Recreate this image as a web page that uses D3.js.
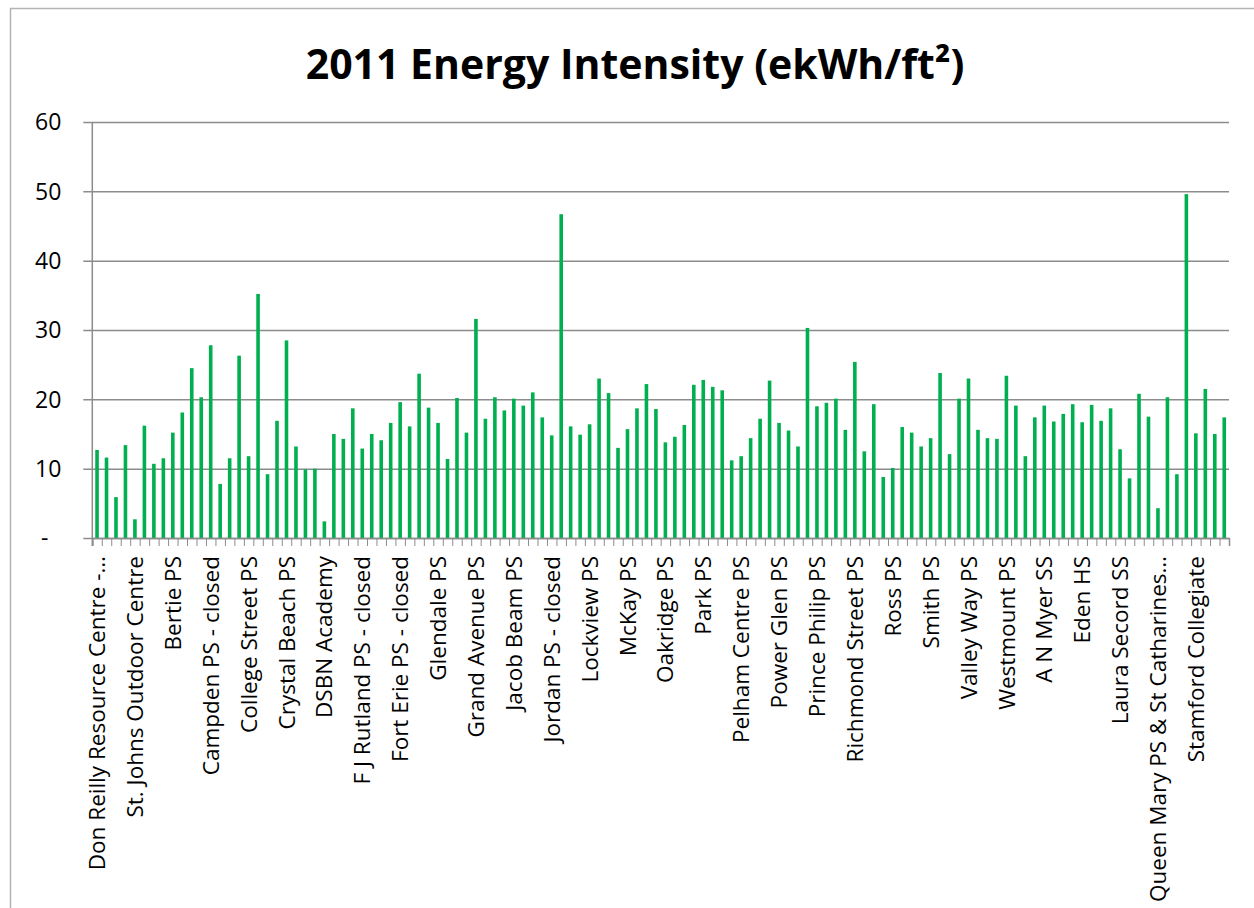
<!DOCTYPE html>
<html>
<head>
<meta charset="utf-8">
<script src="https://cdn.jsdelivr.net/npm/d3@7"></script>
<style>
    body { margin: 0; background: #fff; }
    text { font-family: "Open Sans", sans-serif; fill: #000; }
</style>
</head>
<body>
<div id="chart-container"></div>
<script>
// Energy intensity per building, 120 buildings (ekWh/ft2)
const intensityValues = [
    12.7, 11.6, 5.9, 13.4, 2.7, 16.2, 10.7, 11.5, 15.2, 18.1,
    24.5, 20.3, 27.8, 7.8, 11.5, 26.3, 11.8, 35.2, 9.2, 16.9,
    28.5, 13.2, 9.9, 10.0, 2.4, 15.0, 14.3, 18.7, 12.9, 15.0,
    14.1, 16.6, 19.6, 16.1, 23.7, 18.8, 16.6, 11.4, 20.2, 15.2,
    31.6, 17.2, 20.3, 18.4, 20.1, 19.1, 21.0, 17.4, 14.8, 46.7,
    16.1, 14.9, 16.4, 23.0, 20.9, 13.0, 15.7, 18.7, 22.2, 18.6,
    13.8, 14.6, 16.3, 22.1, 22.8, 21.8, 21.3, 11.2, 11.8, 14.4,
    17.2, 22.7, 16.6, 15.5, 13.2, 30.3, 19.0, 19.5, 20.1, 15.6,
    25.4, 12.5, 19.3, 8.8, 10.1, 16.0, 15.2, 13.2, 14.4, 23.8,
    12.1, 20.1, 23.0, 15.6, 14.4, 14.3, 23.4, 19.1, 11.8, 17.4,
    19.1, 16.8, 17.9, 19.3, 16.7, 19.2, 16.9, 18.7, 12.8, 8.6,
    20.8, 17.5, 4.3, 20.3, 9.2, 49.6, 15.1, 21.5, 15.0, 17.4
];

// Only every 4th building name is printed under the axis
const shownLabels = [
    "Don Reilly Resource Centre -…", "St. Johns Outdoor Centre", "Bertie PS",
    "Campden PS - closed", "College Street PS", "Crystal Beach PS", "DSBN Academy",
    "F J Rutland PS - closed", "Fort Erie PS - closed", "Glendale PS", "Grand Avenue PS",
    "Jacob Beam PS", "Jordan PS - closed", "Lockview PS", "McKay PS", "Oakridge PS",
    "Park PS", "Pelham Centre PS", "Power Glen PS", "Prince Philip PS",
    "Richmond Street PS", "Ross PS", "Smith PS", "Valley Way PS", "Westmount PS",
    "A N Myer SS", "Eden HS", "Laura Secord SS", "Queen Mary PS & St Catharines…",
    "Stamford Collegiate"
];
const labelEvery = 4;

const yTicks = [0, 10, 20, 30, 40, 50, 60];

const chartWidth = 1254;
const chartHeight = 908;
const plot = {left: 92.3, right: 1229, top: 122, bottom: 538};
const barColor = "#00b050";
const gridColor = "#8c8c8c";

const svg = d3.select("#chart-container").append("svg")
    .attr("width", chartWidth)
    .attr("height", chartHeight);

// outer chart border (runs off the picture at right and bottom)
svg.append("rect")
    .attr("x", 10.5)
    .attr("y", 8.5)
    .attr("width", 1400)
    .attr("height", 1000)
    .attr("fill", "none")
    .attr("stroke", "#b4b4b4")
    .attr("stroke-width", 1.5);

svg.append("text")
    .attr("x", 635)
    .attr("y", 79)
    .attr("text-anchor", "middle")
    .style("font-size", "41px")
    .style("font-weight", "bold")
    .text("2011 Energy Intensity (ekWh/ft²)");

const indices = d3.range(intensityValues.length);

const xScale = d3.scaleBand()
    .domain(indices)
    .range([plot.left, plot.right])
    .paddingInner(0.62)
    .paddingOuter(0.31);

const xEdges = d3.scaleLinear()
    .domain([0, intensityValues.length])
    .range([plot.left, plot.right]);

const yScale = d3.scaleLinear()
    .domain([0, 60])
    .range([plot.bottom, plot.top]);

// y axis with gridlines
const yAxis = d3.axisLeft(yScale)
    .tickValues(yTicks)
    .tickSize(-(plot.right - plot.left))
    .tickPadding(31)
    .tickFormat(d => d === 0 ? "-" : d);

const yAxisGroup = svg.append("g")
    .attr("transform", `translate(${plot.left},0)`)
    .call(yAxis);
yAxisGroup.select(".domain").remove();
yAxisGroup.selectAll(".tick line")
    .attr("x1", -9)
    .attr("stroke", gridColor)
    .attr("stroke-width", 1.5);
yAxisGroup.selectAll(".tick text")
    .style("font-size", "23px")
    .attr("dy", "0.34em")
    .attr("dx", d => d === 0 ? -13 : 0);

svg.append("line")
    .attr("x1", plot.left)
    .attr("x2", plot.left)
    .attr("y1", plot.top)
    .attr("y2", plot.bottom + 8)
    .attr("stroke", gridColor)
    .attr("stroke-width", 1.5);

// bars
svg.selectAll(".bar")
    .data(intensityValues)
    .enter()
    .append("rect")
    .attr("class", "bar")
    .attr("x", (d, i) => xScale(i))
    .attr("width", xScale.bandwidth())
    .attr("y", d => yScale(d))
    .attr("height", d => yScale(0) - yScale(d))
    .attr("fill", barColor);

// category boundary ticks
const edgeAxis = d3.axisBottom(xEdges)
    .tickValues(d3.range(intensityValues.length + 1))
    .tickSize(8)
    .tickFormat("");
const edgeGroup = svg.append("g")
    .attr("transform", `translate(0,${plot.bottom})`)
    .call(edgeAxis);
edgeGroup.select(".domain").attr("stroke", gridColor).attr("stroke-width", 1.5);
edgeGroup.selectAll(".tick line").attr("stroke", gridColor);

// rotated category labels
const xAxis = d3.axisBottom(xScale)
    .tickValues(indices.filter(i => i % labelEvery === 0))
    .tickSize(0)
    .tickFormat(i => shownLabels[i / labelEvery]);
const labelGroup = svg.append("g")
    .attr("transform", `translate(0,${plot.bottom})`)
    .call(xAxis);
labelGroup.select(".domain").remove();
labelGroup.selectAll(".tick text")
    .attr("transform", "rotate(-90)")
    .attr("x", -18)
    .attr("y", 0)
    .attr("dy", "0.36em")
    .style("text-anchor", "end")
    .style("font-size", "22.5px");
</script>
</body>
</html>
